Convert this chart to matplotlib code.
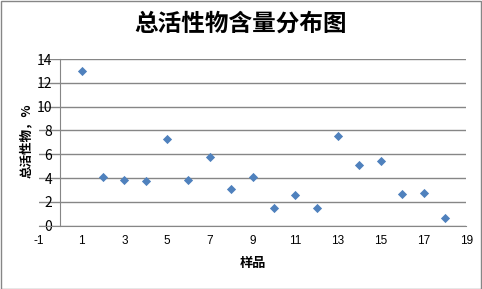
import matplotlib
matplotlib.use("Agg")
import matplotlib.pyplot as plt
from matplotlib.patches import Rectangle

plt.rcParams['font.family'] = ['Noto Sans CJK SC', 'DejaVu Sans']

# sample number vs total active matter content (%)
samples = [1, 2, 3, 4, 5, 6, 7, 8, 9, 10, 11, 12, 13, 14, 15, 16, 17, 18]
content = [13.0, 4.05, 3.85, 3.75, 7.3, 3.87, 5.78, 3.06, 4.05, 1.45,
           2.55, 1.46, 7.56, 5.07, 5.47, 2.65, 2.76, 0.63]
xticks = list(range(-1, 20, 2))
yticks = list(range(0, 15, 2))

W, H = 482, 289
fig = plt.figure(figsize=(W / 100, H / 100), dpi=100)
ax = fig.add_axes([38.9 / W, 1 - 225.7 / H, 427.4 / W, 166.7 / H])

grid = '#868686'
ax.scatter(samples, content, marker='D', s=22, color='#4F81BD', zorder=3, linewidths=0)

ax.set_xlim(-1, 19)
ax.set_ylim(0, 14)
ax.set_xticks(xticks)
ax.set_yticks(yticks)
ax.set_xticklabels([str(v) for v in xticks], fontsize=8.5, family='Liberation Sans')
ax.set_yticklabels([str(v) for v in yticks], fontsize=8.5, family='Liberation Sans')
ax.tick_params(axis='x', length=0, pad=7)
ax.tick_params(axis='y', length=0, pad=6)

ax.grid(axis='y', color=grid, linewidth=1)
ax.set_axisbelow(True)
for s in ['top', 'right']:
    ax.spines[s].set_visible(False)
ax.spines['left'].set_position(('data', 0))
ax.spines['left'].set_color(grid)
ax.spines['bottom'].set_color(grid)

fig.text(241 / W, 1 - 24 / H, '总活性物含量分布图', ha='center', va='center',
         fontsize=17, fontweight='bold')
fig.text(26 / W, 1 - 141 / H, '总活性物，%', ha='center', va='center',
         rotation=90, fontsize=9, fontweight='bold')
fig.text(253 / W, 1 - 263 / H, '样品', ha='center', va='center',
         fontsize=9.5, fontweight='bold')

fig.patches.append(Rectangle((0.5 / W, 0.5 / H), 1 - 1.5 / W, 1 - 1.5 / H,
                             transform=fig.transFigure, fill=False,
                             edgecolor=grid, linewidth=1))

fig.savefig('out.png', dpi=100)
